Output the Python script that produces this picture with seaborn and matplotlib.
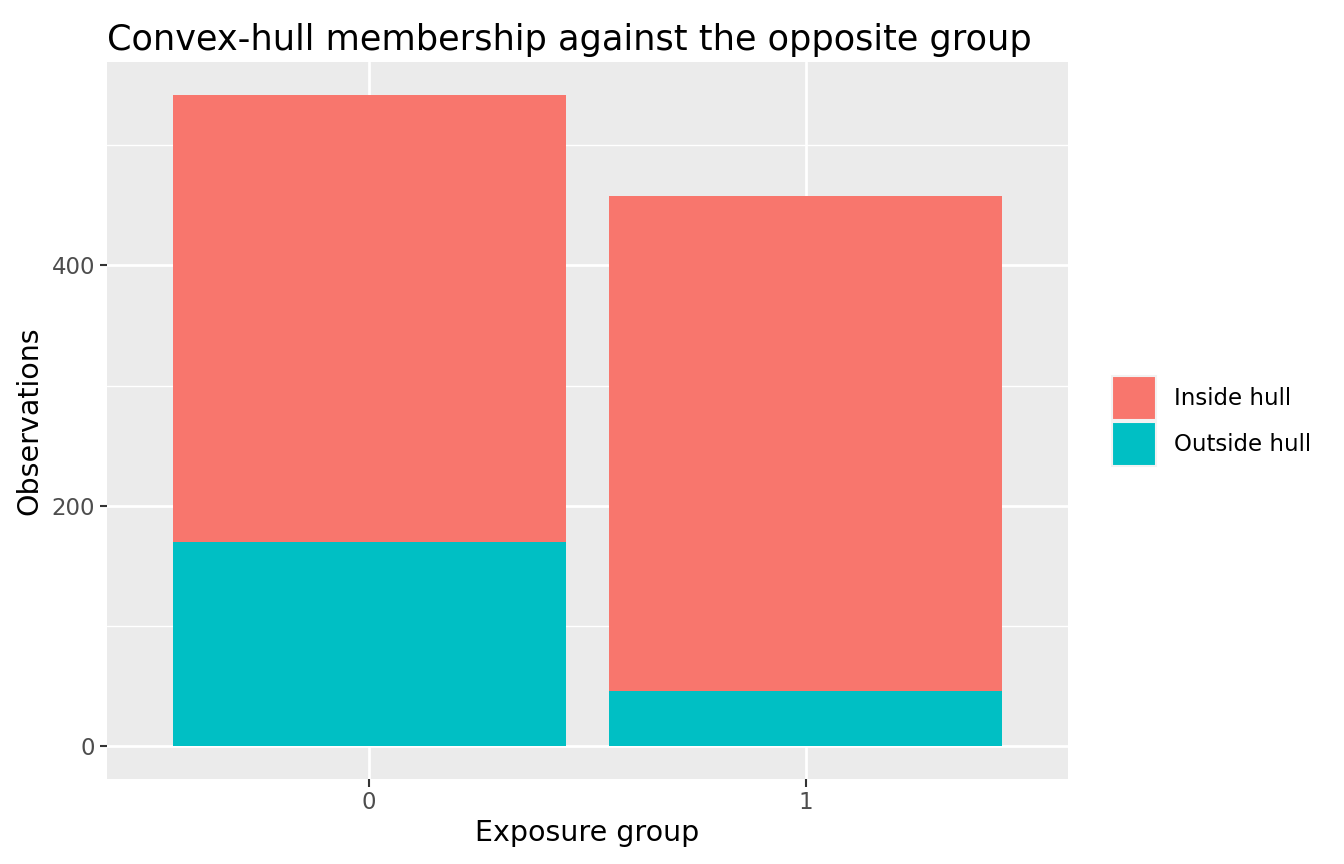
import matplotlib
matplotlib.use('Agg')
import matplotlib.pyplot as plt
from matplotlib.patches import Patch
from matplotlib.ticker import MultipleLocator
import pandas as pd
import seaborn as sns

groups = ['0', '1']
inside_hull = [372, 412]
outside_hull = [170, 46]
series_names = ['Inside hull', 'Outside hull']
colors = ['#F8766D', '#00BFC4']

df = pd.DataFrame({'group': groups, 'inside': inside_hull, 'outside': outside_hull})
df['total'] = df['inside'] + df['outside']

sns.set_style('darkgrid', {'axes.facecolor': '#EBEBEB', 'grid.color': 'white'})
plt.rcParams['font.family'] = ['DejaVu Sans']

fig = plt.figure(figsize=(13.44, 8.64), dpi=100)
ax = fig.add_axes([107 / 1344, 85 / 864, 961 / 1344, 717 / 864])

# stacked bars: total drawn first in the inside colour, outside part on top
sns.barplot(data=df, x='group', y='total', order=groups, color=colors[0],
            width=0.9, saturation=1, ax=ax, zorder=3)
sns.barplot(data=df, x='group', y='outside', order=groups, color=colors[1],
            width=0.9, saturation=1, ax=ax, zorder=3)
for p in ax.patches:
    p.set_linewidth(0)

ax.set_xlim(-0.6, 1.6)
top = df['total'].max()
ax.set_ylim(-0.05 * top, top * 1.05)
ax.yaxis.set_major_locator(MultipleLocator(200))
ax.yaxis.set_minor_locator(MultipleLocator(100))
ax.grid(which='major', color='white', linewidth=2.0, zorder=0)
ax.grid(which='minor', axis='y', color='white', linewidth=1.0, zorder=0)
ax.set_axisbelow(True)
for s in ax.spines.values():
    s.set_visible(False)

ax.tick_params(axis='both', which='major', bottom=True, left=True, length=5.4, width=1.5,
               color='#333333', labelcolor='#4D4D4D', labelsize=16.5, pad=3)
ax.tick_params(axis='both', which='minor', length=0)

ax.set_xlabel('Exposure group', fontsize=20.5, color='black', labelpad=4)
ax.set_ylabel('Observations', fontsize=20.5, color='black', labelpad=6)
ax.set_title('Convex-hull membership against the opposite group', fontsize=25.3,
             loc='left', pad=8.5, color='black')

handles = [Patch(facecolor=c, edgecolor='#F2F2F2', linewidth=1.5) for c in colors]
fig.legend(handles, series_names, loc='center left', bbox_to_anchor=(1112 / 1344, 1 - 421 / 864),
           frameon=False, fontsize=16.5, handlelength=1.9, handleheight=2.52,
           handletextpad=0.8, labelspacing=0.12, borderaxespad=0, borderpad=0,
           labelcolor='black')

fig.savefig('out.png', dpi=100)
